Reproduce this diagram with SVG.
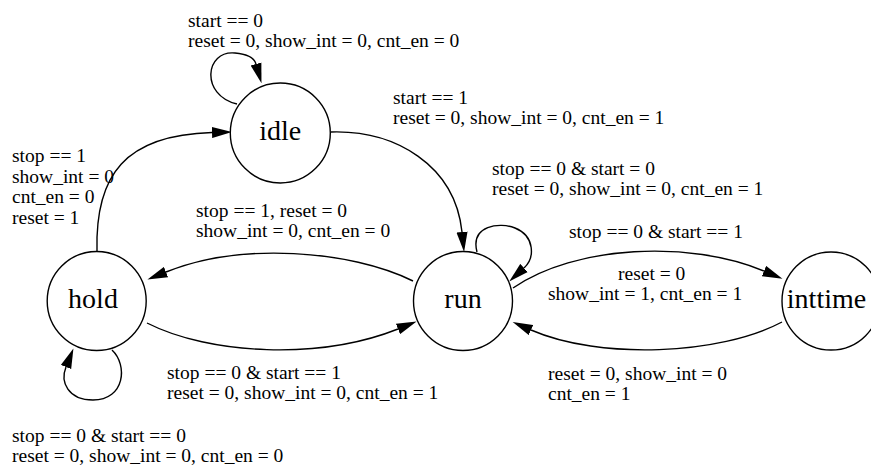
<svg xmlns="http://www.w3.org/2000/svg" width="871" height="465" viewBox="0 0 871 465" font-family="'Liberation Serif', 'Nimbus Roman', 'DejaVu Serif', serif">
<style>
.node circle{fill:#fff;stroke:#000;stroke-width:1.4}
text{font-family:'Liberation Serif','Nimbus Roman','DejaVu Serif',serif}
.nl{font-size:28px;fill:#000;text-anchor:middle}
.el{font-size:19.5px;fill:#000}
.edge{fill:none;stroke:#000;stroke-width:1.4;marker-end:url(#ah)}
</style>
<defs>
<marker id="ah" markerUnits="userSpaceOnUse" markerWidth="20" markerHeight="12" refX="0" refY="5" orient="auto" viewBox="0 0 18 10">
<path d="M0,0 L18,5 L0,10 z" fill="#000"/>
</marker>
</defs>
<rect width="871" height="465" fill="#fff"/>
<g id="connectors">
<path class="edge" d="M237,104 C200,95 205,50 235,53 C247,54 254,57 256,64"/>
<path class="edge" d="M97,251 C95,175 125,135 212,132.5"/>
<path class="edge" d="M331,132 C395,130 455,165 462,232"/>
<path class="edge" d="M477,252 C470,225 500,222 515,228 C535,236 535,258 524,268"/>
<path class="edge" d="M413,281 C350,250 240,242 166,272"/>
<path class="edge" d="M147,323 C210,355 320,360 398,329"/>
<path class="edge" d="M513,288 C575,245 690,240 764,271"/>
<path class="edge" d="M782,322 C720,355 600,360 531,330"/>
<path class="edge" d="M112,350 C128,365 125,400 93,400 C68,400 60,382 66,367"/>
</g>
<g id="labels">
<text class="el" x="188" y="27">start == 0</text>
<text class="el" x="188" y="47">reset = 0, show_int = 0, cnt_en = 0</text>
<text class="el" x="393" y="104">start == 1</text>
<text class="el" x="393" y="124">reset = 0, show_int = 0, cnt_en = 1</text>
<text class="el" x="492" y="175">stop == 0 &amp; start = 0</text>
<text class="el" x="492" y="195">reset = 0, show_int = 0, cnt_en = 1</text>
<text class="el" x="569" y="238">stop == 0 &amp; start == 1</text>
<text class="el" x="618" y="280">reset = 0</text>
<text class="el" x="548" y="300">show_int = 1, cnt_en = 1</text>
<text class="el" x="548" y="380">reset = 0, show_int = 0</text>
<text class="el" x="548" y="400">cnt_en = 1</text>
<text class="el" x="196" y="217">stop == 1, reset = 0</text>
<text class="el" x="196" y="237">show_int = 0, cnt_en = 0</text>
<text class="el" x="167" y="379">stop == 0 &amp; start == 1</text>
<text class="el" x="167" y="399">reset = 0, show_int = 0, cnt_en = 1</text>
<text class="el" x="12" y="442">stop == 0 &amp; start == 0</text>
<text class="el" x="12" y="462">reset = 0, show_int = 0, cnt_en = 0</text>
<text class="el" x="12" y="162">stop == 1</text>
<text class="el" x="12" y="182.5">show_int = 0</text>
<text class="el" x="12" y="203">cnt_en = 0</text>
<text class="el" x="12" y="223.5">reset = 1</text>
</g>
<g id="idle" class="node"><circle cx="280.3" cy="133" r="50"/><text class="nl" x="280.3" y="140">idle</text></g>
<g id="hold" class="node"><circle cx="96.7" cy="301" r="49.5"/><text class="nl" x="93" y="308">hold</text></g>
<g id="run" class="node"><circle cx="463" cy="301" r="49.5"/><text class="nl" x="463" y="308">run</text></g>
<g id="inttime" class="node"><circle cx="831" cy="301" r="49"/><text class="nl" x="826.5" y="308">inttime</text></g>
</svg>
